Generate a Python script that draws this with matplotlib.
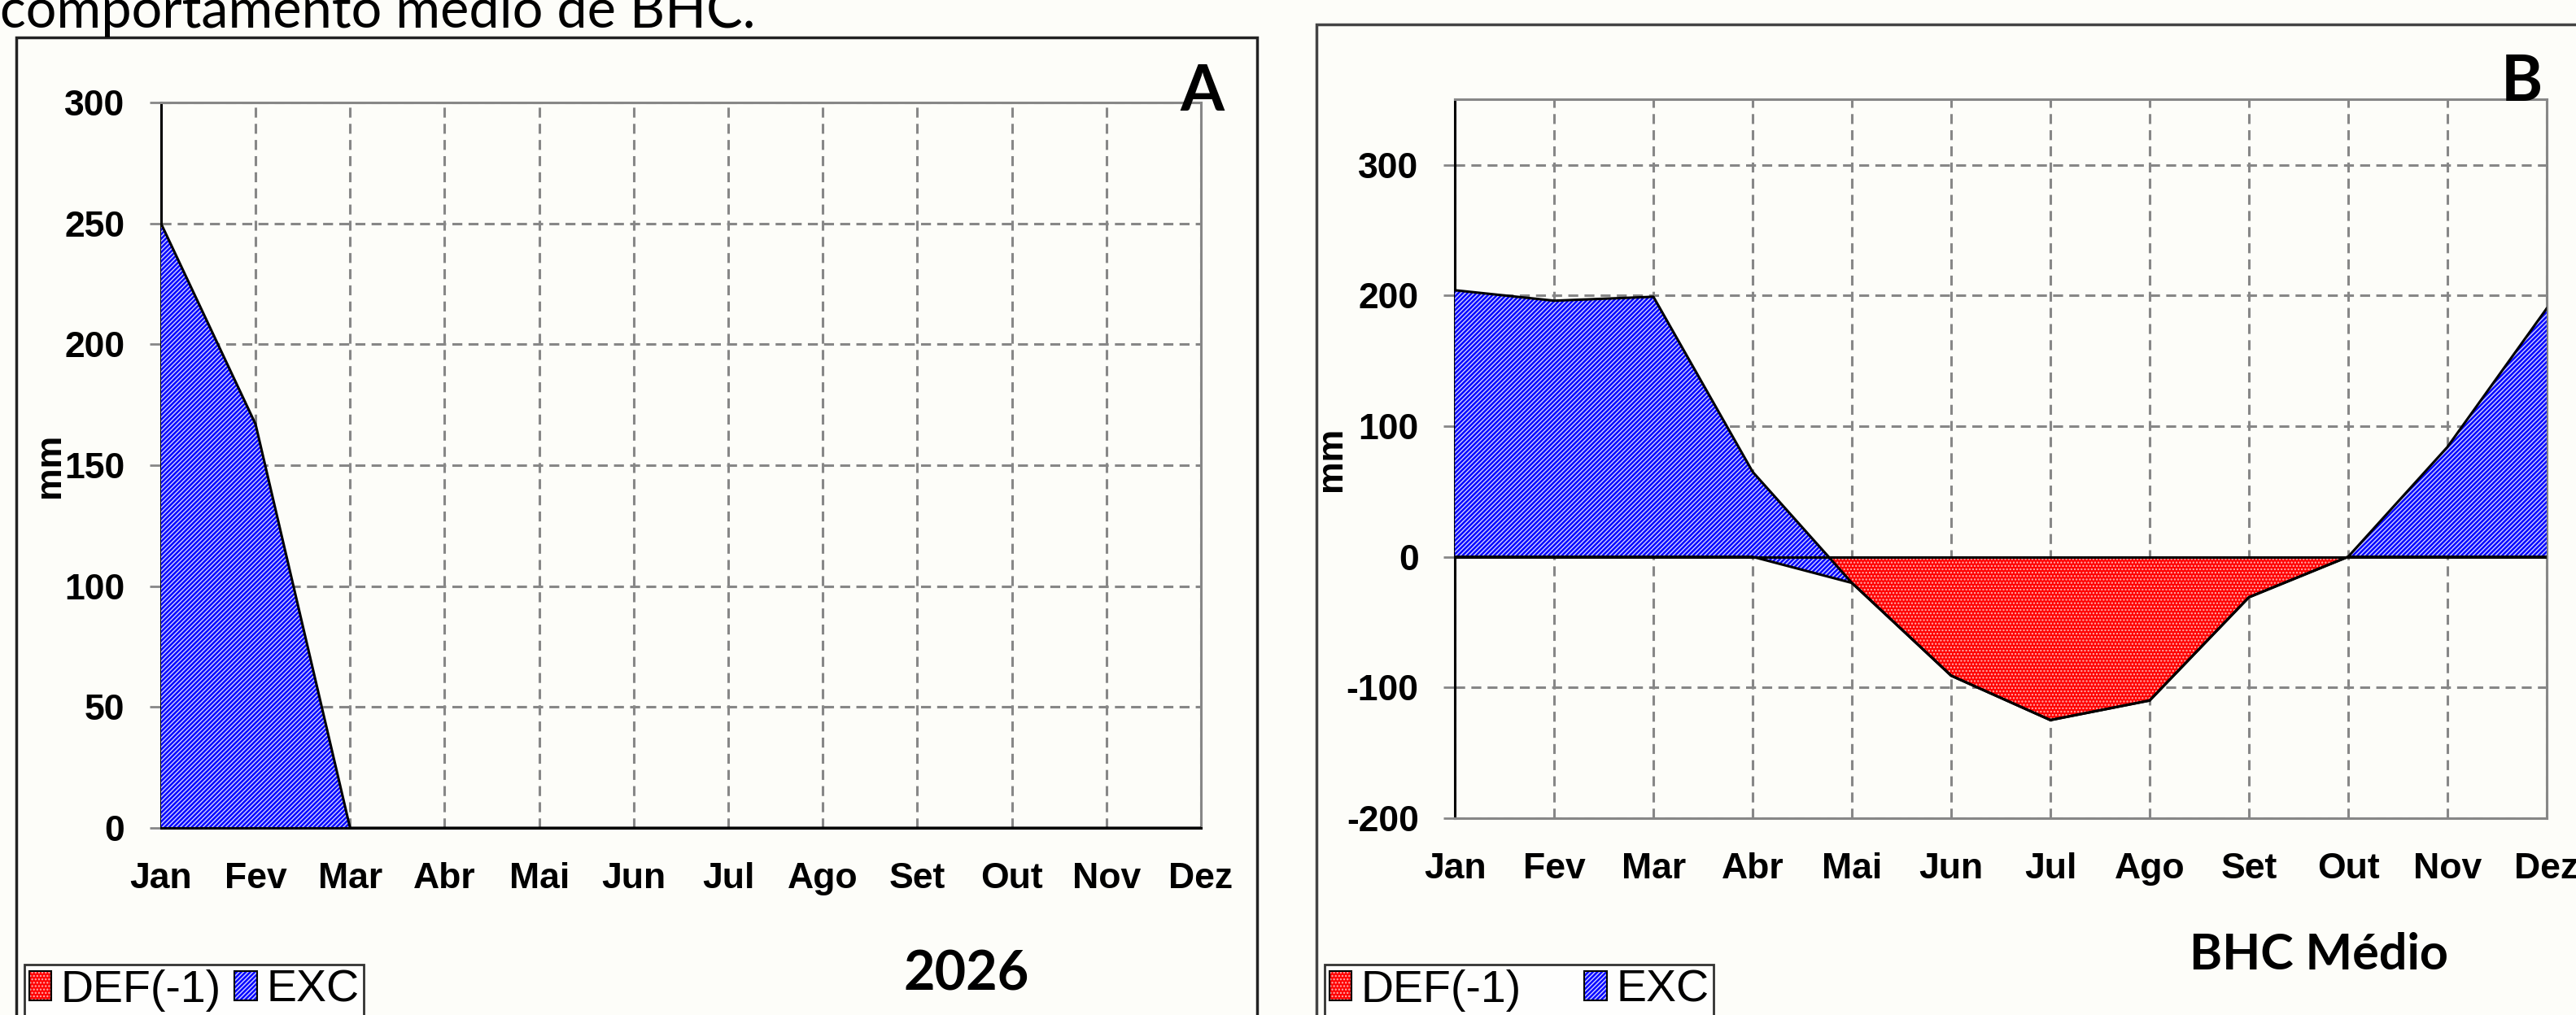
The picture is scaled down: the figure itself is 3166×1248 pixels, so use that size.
import matplotlib
matplotlib.use("Agg")
import matplotlib.pyplot as plt
from matplotlib.patches import Patch, Rectangle
from matplotlib.legend_handler import HandlerTuple

# ---------------------------------------------------------
# data (mm)
# ---------------------------------------------------------
months = ["Jan", "Fev", "Mar", "Abr", "Mai", "Jun",
          "Jul", "Ago", "Set", "Out", "Nov", "Dez"]

def_2026 = [0, 0, 0, 0, 0, 0, 0, 0, 0, 0, 0, 0]
exc_2026 = [250, 167, 0, 0, 0, 0, 0, 0, 0, 0, 0, 0]

def_medio = [0, 0, 0, 0, -20, -91, -125, -110, -31, 0, 0, 0]
exc_medio = [204, 196, 199, 65, 0, 0, 0, 0, 0, 0, 84, 190]

yticks_a = [0, 50, 100, 150, 200, 250, 300]
yticks_b = [-200, -100, 0, 100, 200, 300]

plt.rcParams.update({
    "font.family": ["Liberation Sans", "DejaVu Sans"],
    "hatch.linewidth": 1.1,
    "axes.unicode_minus": False,
    "figure.facecolor": "#fdfdf9",
    "savefig.facecolor": "#fdfdf9",
})

BLUE = "#0000ff"
RED = "#ff0000"
GRID = "#878787"
TITLE_FONT = ["Lato", "DejaVu Sans"]


def draw_panel(ax, defs, excs, yticks, ylim):
    x = list(range(len(months)))
    top = [d + e for d, e in zip(defs, excs)]

    ax.fill_between(x, 0, defs, facecolor=RED, edgecolor="#ffb0b0",
                    hatch="....", linewidth=0, zorder=2)
    ax.fill_between(x, defs, top, facecolor=BLUE, edgecolor="#c8c8ff",
                    hatch="//////", linewidth=0, zorder=3)
    ax.plot(x, defs, color="black", lw=2.2, zorder=4)
    ax.plot(x, top, color="black", lw=2.2, zorder=4)
    ax.axhline(0, color="black", lw=2.2, zorder=4)

    ax.set_xlim(0, len(months) - 1)
    ax.set_ylim(*ylim)
    ax.set_xticks(x)
    ax.set_xticklabels(months)
    ax.set_yticks(yticks)
    ax.set_facecolor("#fdfdf9")

    ax.grid(True, color=GRID, linestyle=(0, (4, 2.5)), lw=2.2, zorder=1)
    ax.set_axisbelow(True)

    for s in ["top", "right", "bottom"]:
        ax.spines[s].set_color(GRID)
        ax.spines[s].set_linewidth(2.2)
    ax.spines["left"].set_color("black")
    ax.spines["left"].set_linewidth(2.2)

    ax.tick_params(axis="y", labelsize=32, width=2, color=GRID,
                   length=10, pad=22)
    ax.tick_params(axis="x", labelsize=32, length=0, pad=30)
    for lbl in ax.get_xticklabels() + ax.get_yticklabels():
        lbl.set_fontweight("bold")
    ax.set_ylabel("mm", fontsize=32, fontweight="bold", labelpad=-2)


fig = plt.figure(figsize=(31.66, 12.48), dpi=100)

# outer frames of the two pasted charts
fig.patches.append(Rectangle((20 / 3166, -0.1), 1525 / 3166, 1.063,
                             transform=fig.transFigure, fill=False,
                             edgecolor="#222222", lw=2.5))
fig.patches.append(Rectangle((1618 / 3166, -0.1), 0.6, 1.076,
                             transform=fig.transFigure, fill=False,
                             edgecolor="#444444", lw=2.5))

ax_a = fig.add_axes([0.0625, 0.1843, 0.4037, 0.7147])
draw_panel(ax_a, def_2026, exc_2026, yticks_a, (0, 300))
ax_a.spines["bottom"].set_color("black")

ax_b = fig.add_axes([0.5648, 0.194, 0.4238, 0.708])
draw_panel(ax_b, def_medio, exc_medio, yticks_b, (-200, 350))

# legends
def legend_handles():
    h_def = (Patch(facecolor=RED, edgecolor="#ffb0b0", hatch="....", lw=0),
             Patch(fill=False, edgecolor="black", lw=1.5))
    h_exc = (Patch(facecolor=BLUE, edgecolor="#c8c8ff", hatch="//////", lw=0),
             Patch(fill=False, edgecolor="black", lw=1.5))
    return [h_def, h_exc]

for anchor, spacing in [((30 / 3166, 1 - 1186 / 1248), 0.3),
                        ((1628 / 3166, 1 - 1186 / 1248), 1.4)]:
    leg = fig.legend(legend_handles(), ["DEF(-1)", "EXC"],
                     loc="upper left", bbox_to_anchor=anchor, ncol=2,
                     fontsize=40, frameon=True, fancybox=False,
                     handlelength=0.5, handleheight=0.6, handletextpad=0.2,
                     columnspacing=spacing, borderpad=0.1,
                     borderaxespad=0,
                     handler_map={tuple: HandlerTuple(ndivide=1, pad=0)})
    leg.get_frame().set_edgecolor("black")
    leg.get_frame().set_linewidth(2)
    leg.get_frame().set_facecolor("white")

# texts
fig.text(0.0, 1 - 34 / 1248, "comportamento médio de BHC.", fontsize=48,
         family=TITLE_FONT, va="baseline", ha="left")
fig.text(1504 / 3166, 1 - 136 / 1248, "A", fontsize=56, fontweight="bold",
         family=TITLE_FONT, ha="right", va="baseline")
fig.text(3125 / 3166, 1 - 124 / 1248, "B", fontsize=56, fontweight="bold",
         family=TITLE_FONT, ha="right", va="baseline")
fig.text(1188 / 3166, 1 - 1198 / 1248, "2026", fontsize=48, fontweight="bold",
         family=TITLE_FONT, ha="center", va="center")
fig.text(2850 / 3166, 1 - 1174 / 1248, "BHC Médio", fontsize=44,
         fontweight="bold", family=TITLE_FONT, ha="center", va="center")

fig.savefig("out.png", dpi=100)
